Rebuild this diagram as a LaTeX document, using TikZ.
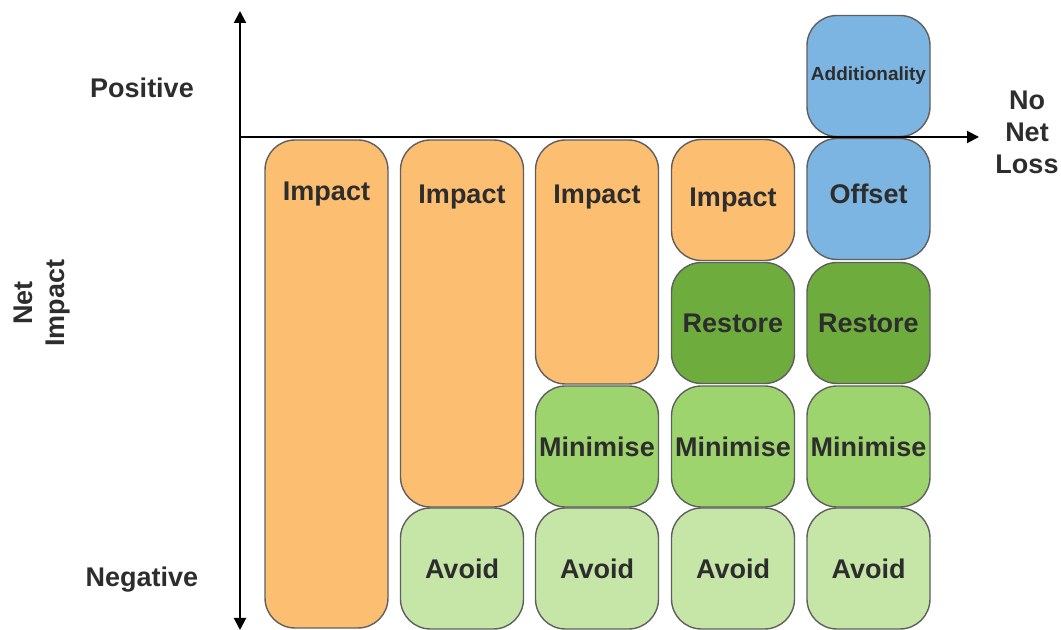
\documentclass[tikz,border=0pt]{standalone}
\usepackage{fontspec}
\setmainfont{Liberation Sans}
\usetikzlibrary{arrows.meta}

\definecolor{impactorange}{RGB}{252,190,112}
\definecolor{offsetblue}{RGB}{125,181,226}
\definecolor{restoregreen}{RGB}{110,172,62}
\definecolor{minimisegreen}{RGB}{158,212,110}
\definecolor{avoidgreen}{RGB}{198,230,168}
\definecolor{edgegray}{RGB}{95,95,95}
\definecolor{labelgray}{RGB}{45,45,45}

\begin{document}
\begin{tikzpicture}[x=0.5pt, y=-0.5pt,
    stage/.style={draw=edgegray, line width=0.7pt, rounded corners=15pt,
        minimum width=61.5pt, minimum height=60.5pt, inner sep=0pt,
        text=labelgray, font=\bfseries\fontsize{13.5}{16}\selectfont},
    word/.style={text=labelgray, font=\bfseries\fontsize{13.5}{16}\selectfont, align=center},
    axis/.style={line width=1pt, -{Triangle[length=6pt, width=6pt]}}]
    \useasboundingbox (0,0) rectangle (1061,630);

    % Column 1: impact only
    \node[stage, fill=impactorange, minimum height=244pt] (imp1) at (326.5,384) {};
    \node[word] (imp1t) at (326.5,194) {Impact};

    % Column 2: avoid
    \node[stage, fill=impactorange, minimum height=183.5pt] (imp2) at (462,323.5) {};
    \node[word] (imp2t) at (462,197) {Impact};
    \node[stage, fill=avoidgreen] (avo2) at (462,568.5) {Avoid};

    % Column 3: avoid + minimise
    \node[stage, fill=impactorange, minimum height=122pt] (imp3) at (597,262) {};
    \node[word] (imp3t) at (597,197) {Impact};
    \node[stage, fill=minimisegreen] (min3) at (597,446.5) {Minimise};
    \node[stage, fill=avoidgreen] (avo3) at (597,568.5) {Avoid};

    % Column 4: avoid + minimise + restore
    \node[stage, fill=impactorange] (imp4) at (733,200) {Impact};
    \node[stage, fill=restoregreen] (res4) at (733,323) {Restore};
    \node[stage, fill=minimisegreen] (min4) at (733,446.5) {Minimise};
    \node[stage, fill=avoidgreen] (avo4) at (733,568.5) {Avoid};

    % Column 5: full hierarchy, offset past the line
    \node[stage, fill=offsetblue, font=\bfseries\fontsize{9.5}{12}\selectfont] (add5) at (868.5,76) {Additionality};
    \node[stage, fill=offsetblue] (off5) at (868.5,199) {};
    \node[word] (off5t) at (868.5,194) {Offset};
    \node[stage, fill=restoregreen] (res5) at (868.5,323) {Restore};
    \node[stage, fill=minimisegreen] (min5) at (868.5,446.5) {Minimise};
    \node[stage, fill=avoidgreen] (avo5) at (868.5,568.5) {Avoid};

    % Axes
    \coordinate (top) at (240,11);
    \coordinate (bottom) at (240,630);
    \coordinate (origin) at (240,137);
    \coordinate (right) at (979,137);
    \draw[axis] (origin) -- (top);
    \draw[axis] (origin) -- (bottom);
    \draw[axis] (origin) -- (right);

    % Axis labels
    \node[word] (pos) at (142,88) {Positive};
    \node[word] (neg) at (142,580) {Negative};
    \node[word, rotate=90] (net) at (42,303) {Net\\Impact};
    \node[word] (nnl) at (1027,132) {No\\Net\\Loss};
\end{tikzpicture}
\end{document}
